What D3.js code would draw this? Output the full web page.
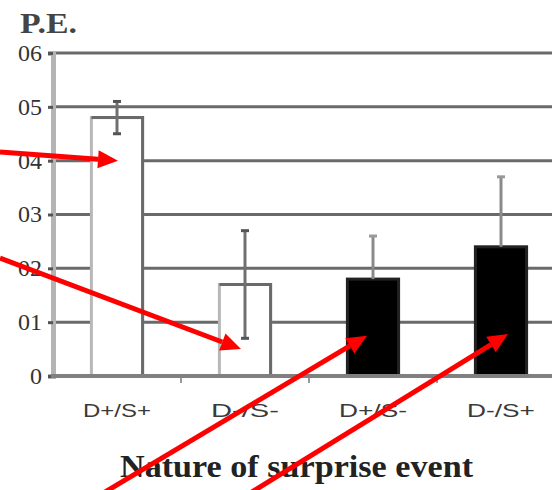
<!DOCTYPE html>
<html>
<head>
<meta charset="utf-8">
<script src="https://cdn.jsdelivr.net/npm/d3@7/dist/d3.min.js"></script>
<style>
  html, body { margin: 0; padding: 0; background: #fff; }
  svg { display: block; }
</style>
</head>
<body>
<script>
// Prediction error by nature of the surprise event
const categories = ["D+/S+", "D-/S-", "D+/S-", "D-/S+"];
const means      = [0.48, 0.17, 0.18, 0.24];
const errors     = [0.03, 0.10, 0.08, 0.13];
const fills      = ["white", "white", "black", "black"];
const yTicks     = [0, 0.1, 0.2, 0.3, 0.4, 0.5, 0.6];
const yTickText  = ["0", "01", "02", "03", "04", "05", "06"];
const yTitle     = "P.E.";
const xTitle     = "Nature of surprise event";

// Red pointer arrows: where each one points (category, value) and where it enters from
const arrowTargets = [
  { cat: "D+/S+", value: 0.40, dx: 1,  from: [0, 152] },
  { cat: "D-/S-", value: 0.05, dx: -4, from: [0, 258] },
  { cat: "D+/S-", value: 0.075, dx: -6, from: [100, 495] },
  { cat: "D-/S+", value: 0.078, dx: 7, from: [247, 495] }
];

const W = 552, H = 490;
const svg = d3.select("body").append("svg").attr("width", W).attr("height", H);

const axisX = 53, baseY = 376, topY = 53;
const x = d3.scaleBand().domain(categories).range([axisX, axisX + 512])
  .paddingInner(0.6).paddingOuter(0.3);
const y = d3.scaleLinear().domain([0, 0.6]).range([baseY, topY]);

// horizontal grid lines
svg.append("g").selectAll("line").data(yTicks.filter(d => d > 0)).join("line")
  .attr("x1", axisX).attr("x2", W)
  .attr("y1", d => y(d)).attr("y2", d => y(d))
  .attr("stroke", "#6a6a6a").attr("stroke-width", 3);

// y axis with serif tick labels
const yAxis = d3.axisLeft(y).tickValues(yTicks)
  .tickFormat((d, i) => yTickText[i]).tickSize(5).tickPadding(6);
const gy = svg.append("g").attr("transform", `translate(${axisX},0)`).call(yAxis);
gy.select(".domain").attr("stroke", "#b4b4b4").attr("stroke-width", 5);
gy.selectAll(".tick line").attr("stroke", "#555").attr("stroke-width", 3);
gy.selectAll(".tick text")
  .attr("font-family", "'Liberation Serif', 'Times New Roman', serif")
  .attr("font-size", 23).attr("fill", "#333")
  .attr("textLength", (d, i) => yTickText[i].length * 12)
  .attr("lengthAdjust", "spacingAndGlyphs");

// bars
const bw = x.bandwidth();
const bars = svg.append("g").selectAll("g").data(categories).join("g");
bars.append("rect")
  .attr("x", d => x(d)).attr("width", bw)
  .attr("y", (d, i) => y(means[i])).attr("height", (d, i) => baseY - y(means[i]))
  .attr("fill", (d, i) => fills[i])
  .attr("stroke", (d, i) => fills[i] === "white" ? "#b8b8b8" : "#222")
  .attr("stroke-width", 3);
// darker top and right edges on the open bars
bars.filter((d, i) => fills[i] === "white").append("path")
  .attr("d", d => {
    const i = categories.indexOf(d);
    return `M${x(d)},${y(means[i])}H${x(d) + bw}V${baseY}`;
  })
  .attr("fill", "none").attr("stroke", "#6a6a6a").attr("stroke-width", 3);

// error bars (on the filled bars the lower half is lost in the black)
const eb = svg.append("g").selectAll("g").data(categories).join("g")
  .attr("transform", d => `translate(${x(d) + bw / 2},0)`);
eb.append("line")
  .attr("y1", (d, i) => y(means[i] + errors[i]))
  .attr("y2", (d, i) => fills[i] === "white" ? y(means[i] - errors[i]) : y(means[i]))
  .attr("stroke", (d, i) => fills[i] === "white" ? "#707070" : "#8a8a8a")
  .attr("stroke-width", 3);
eb.append("line")
  .attr("x1", -4).attr("x2", 4)
  .attr("y1", (d, i) => y(means[i] + errors[i]))
  .attr("y2", (d, i) => y(means[i] + errors[i]))
  .attr("stroke", (d, i) => fills[i] === "white" ? "#555" : "#999").attr("stroke-width", 3);
eb.filter((d, i) => fills[i] === "white").append("line")
  .attr("x1", -4).attr("x2", 4)
  .attr("y1", (d) => { const i = categories.indexOf(d); return y(means[i] - errors[i]); })
  .attr("y2", (d) => { const i = categories.indexOf(d); return y(means[i] - errors[i]); })
  .attr("stroke", "#555").attr("stroke-width", 3);

// baseline and category separators
svg.append("line").attr("x1", axisX - 2).attr("x2", W)
  .attr("y1", baseY).attr("y2", baseY)
  .attr("stroke", "#808080").attr("stroke-width", 4);
svg.append("g").selectAll("line").data(categories.slice(0, -1)).join("line")
  .attr("x1", d => x(d) + bw / 2 + x.step() / 2).attr("x2", d => x(d) + bw / 2 + x.step() / 2)
  .attr("y1", baseY + 2).attr("y2", baseY + 7)
  .attr("stroke", "#999").attr("stroke-width", 2);

// category labels
svg.append("g").selectAll("text").data(categories).join("text")
  .attr("x", d => x(d) + bw / 2).attr("y", 417)
  .attr("text-anchor", "middle")
  .attr("font-family", "'Liberation Sans', Arial, sans-serif")
  .attr("font-size", 19).attr("fill", "#3a3a3a")
  .attr("textLength", 68).attr("lengthAdjust", "spacingAndGlyphs")
  .text(d => d);

// axis titles
svg.append("text").attr("x", 20).attr("y", 33)
  .attr("font-family", "'Liberation Serif', 'Times New Roman', serif")
  .attr("font-size", 30).attr("font-weight", "bold").attr("fill", "#444")
  .attr("textLength", 57).attr("lengthAdjust", "spacingAndGlyphs")
  .text(yTitle);
svg.append("text").attr("x", 120).attr("y", 477)
  .attr("font-family", "'Liberation Serif', 'Times New Roman', serif")
  .attr("font-size", 32).attr("font-weight", "bold").attr("fill", "#222")
  .attr("textLength", 353).attr("lengthAdjust", "spacingAndGlyphs")
  .text(xTitle);

// red pointer arrows
const arrows = svg.append("g");
arrowTargets.forEach(a => {
  const tx = x(a.cat) + bw / 2 + a.dx, ty = y(a.value);
  const [sx, sy] = a.from;
  const ang = Math.atan2(ty - sy, tx - sx);
  const len = 20, half = 9;
  const bx = tx - len * Math.cos(ang), by = ty - len * Math.sin(ang);
  arrows.append("line").attr("x1", sx).attr("y1", sy).attr("x2", bx).attr("y2", by)
    .attr("stroke", "#f00").attr("stroke-width", 5);
  const px = -Math.sin(ang) * half, py = Math.cos(ang) * half;
  arrows.append("path")
    .attr("d", `M${tx},${ty}L${bx + px},${by + py}L${bx - px},${by - py}Z`)
    .attr("fill", "#f00");
});
</script>
</body>
</html>
